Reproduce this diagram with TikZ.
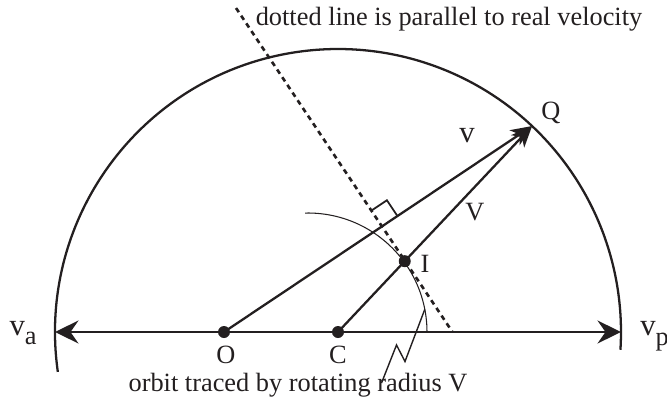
\documentclass[tikz,border=0pt]{standalone}
\usepackage{fontspec}
\setmainfont{Liberation Serif}
\usepackage{xcolor}
\definecolor{inkBlack}{HTML}{231F20}
\usetikzlibrary{arrows.meta,calc}
\tikzset{
  vecLine/.style={draw=inkBlack, line width=1.3pt, -{Stealth[length=0.42cm,width=0.36cm,inset=0.12cm]}},
  axisLine/.style={draw=inkBlack, line width=1.2pt, {Stealth[length=0.47cm,width=0.46cm,inset=0.16cm]}-{Stealth[length=0.47cm,width=0.46cm,inset=0.16cm]}},
  orbitLine/.style={draw=inkBlack, line width=1.3pt},
  thinLine/.style={draw=inkBlack, line width=0.6pt},
  dotLine/.style={draw=inkBlack, line width=1.5pt, dash pattern=on 0.1cm off 0.085cm},
  ptDot/.style={fill=inkBlack},
  lbl/.style={text=inkBlack, font=\fontsize{15}{18}\selectfont, inner sep=0pt, anchor=base},
  bigLbl/.style={lbl, font=\fontsize{17.5}{20}\selectfont},
}

\begin{document}
\begin{tikzpicture}[x=0.02cm,y=0.02cm]
  \useasboundingbox (0,0) rectangle (667,414);
  \coordinate (C) at (338,82);
  \coordinate (O) at (224,82);
  \coordinate (K) at (308,82);
  \coordinate (Q) at ($(C)+(46.7:283)$);
  \coordinate (I) at ($(C)!0.344!(Q)$);
  \coordinate (F) at ($(O)!(I)!(Q)$);
  \coordinate (dtop) at (236,406);
  \coordinate (dbot) at (452.5,82);
  \coordinate (va) at ($(C)+(180:283)$);
  \coordinate (vp) at ($(C)+(0:283)$);
  \coordinate (ra1) at ($(F)!0.38cm!(Q)$);
  \coordinate (ra2) at ($(F)!0.38cm!(dtop)$);
  \coordinate (lead) at (381.5,31);

  \draw[orbitLine] ($(C)+(188.1:283)$) arc (188.1:-3.6:283);
  \draw[thinLine] ($(K)+(91.4:119)$) arc (91.4:0:119);
  \draw[axisLine] (va) -- (vp);
  \draw[dotLine] (dtop) -- (dbot);
  \draw[vecLine] (O) -- (Q);
  \draw[vecLine] (C) -- (Q);
  \draw[thinLine, line width=1pt] (ra1) -- ($(ra1)+(ra2)-(F)$) -- (ra2);
  \draw[thinLine, line width=0.8pt] (lead) -- (396.5,69) -- (405,52.5) -- ($(K)+(11:119)$);
  \fill[ptDot] (O) circle (6);
  \fill[ptDot] (C) circle (6);
  \fill[ptDot] (I) circle (6);

  \node[lbl] (topnote) at (449,389) {dotted line is parallel to real velocity};
  \node[lbl] (botnote) at (298,23) {orbit traced by rotating radius V};
  \node[lbl] (Qlbl) at (551,295) {Q};
  \node[bigLbl] (vlbl) at (467,272) {v};
  \node[lbl] (Vlbl) at (475,194) {V};
  \node[lbl] (Ilbl) at (425,142) {I};
  \node[lbl] (Olbl) at (226,51) {O};
  \node[lbl] (Clbl) at (338,51) {C};
  \node[bigLbl, anchor=base east] (valbl) at (37,79) {v\raisebox{-0.3em}{\fontsize{15}{15}\selectfont a}};
  \node[bigLbl, anchor=base west] (vplbl) at (640,79) {v\raisebox{-0.35em}{\fontsize{15}{15}\selectfont p}};
\end{tikzpicture}
\end{document}
